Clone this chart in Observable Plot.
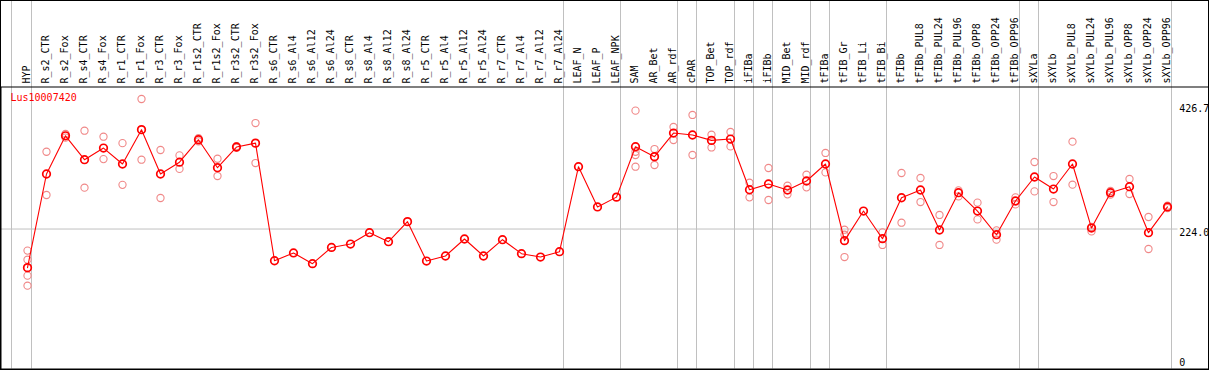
<!DOCTYPE html>
<html>
<head>
<meta charset="utf-8">
<script src="https://cdn.jsdelivr.net/npm/d3@7"></script>
<script src="https://cdn.jsdelivr.net/npm/@observablehq/plot@0.6"></script>
<style>
  html, body { margin: 0; padding: 0; background: #fff; }
  #chart svg { display: block; outline: 1px solid #000; outline-offset: -1px; }
</style>
</head>
<body>
<div id="chart"></div>
<script>
const geneName = "Lus10007420";

const categories = [
  "HYP", "R_s2_CTR", "R_s2_Fox", "R_s4_CTR", "R_s4_Fox", "R_r1_CTR", "R_r1_Fox", "R_r3_CTR", "R_r3_Fox",
  "R_r1s2_CTR", "R_r1s2_Fox", "R_r3s2_CTR", "R_r3s2_Fox",
  "R_s6_CTR", "R_s6_Al4", "R_s6_Al12", "R_s6_Al24", "R_s8_CTR", "R_s8_Al4", "R_s8_Al12", "R_s8_Al24",
  "R_r5_CTR", "R_r5_Al4", "R_r5_Al12", "R_r5_Al24", "R_r7_CTR", "R_r7_Al4", "R_r7_Al12", "R_r7_Al24",
  "LEAF_N", "LEAF_P", "LEAF_NPK",
  "SAM", "AR_Bet", "AR_rdf", "cPAR", "TOP_Bet", "TOP_rdf", "iFIBa", "iFIBb", "MID_Bet", "MID_rdf",
  "tFIBa", "tFIB_Gr", "tFIB_Li", "tFIB_Bi", "tFIBb",
  "tFIBb_PUL8", "tFIBb_PUL24", "tFIBb_PUL96", "tFIBb_OPP8", "tFIBb_OPP24", "tFIBb_OPP96",
  "sXYLa", "sXYLb", "sXYLb_PUL8", "sXYLb_PUL24", "sXYLb_PUL96", "sXYLb_OPP8", "sXYLb_OPP24", "sXYLb_OPP96"
];

const meanValues = [
  161, 313.7, 376, 337, 356, 330, 386, 313.7, 333, 369.6, 324, 357.7, 364,
  172.3, 185, 167.5, 194, 199.5, 218, 203.3, 236, 171.8, 180, 207.7, 180, 206.6, 183.8, 178.3, 187,
  325.6, 260, 276,
  358.2, 342, 380.5, 377.3, 368.5, 370.7, 288, 297.4, 287.6, 302.3, 330, 205, 253.3, 208.2, 275,
  287.6, 222.4, 283.2, 253.3, 214.7, 269.7, 308.8, 289.2, 330, 225.6, 283.2, 293, 218, 260
];

const replicateValues = [
  [188.8, 174, 148, 131.6], [350, 279.5], [379, 373], [384.3, 291.4], [374.5, 338],
  [364, 296], [436, 337], [352.8, 274.6], [344, 322], [372, 367], [338.6, 310.4],
  [359, 356.5], [396.8, 331.6],
  [], [], [], [], [], [], [], [], [], [], [], [], [], [], [], [],
  [], [], [],
  [417, 350, 344.7, 325.6], [354.4, 328.4], [390.3, 369.1], [410, 344.7], [377.8, 357],
  [382.2, 358.7], [299.5, 275.6], [323.5, 271.3], [294.6, 280.5], [312.6, 291.9],
  [348, 316.3], [222.9, 214.7, 178.3], [], [218.5, 198], [315.3, 234.3],
  [307.2, 268], [246.9, 198], [287, 277.2], [267, 239.7], [221.8, 206.6], [275.6, 264.1],
  [333.3, 285.3], [310.4, 268], [366.4, 296.3], [227.3, 220.1], [286, 280], [305.6, 281.1],
  [243.6, 191.4], [262, 258]
];

// last category of each group: a separator is drawn after it
const groupEnds = ["HYP", "R_r7_Al24", "LEAF_NPK", "AR_rdf", "cPAR", "TOP_rdf", "iFIBa", "iFIBb",
  "MID_rdf", "tFIBa", "tFIB_Bi", "tFIBb_OPP96", "sXYLa", "sXYLb_OPP96"];

const yTickValues = [426.7, 224.0];
const yTickLabels = ["426.7", "224.0"];
const yZeroValue = [0];
const yZeroLabel = ["0"];
const refLine = [224.0];

const means = categories.map((c, i) => ({cat: c, value: meanValues[i]}));
const reps = categories.flatMap((c, i) => replicateValues[i].map(v => ({cat: c, value: v})));

const chart = Plot.plot({
  width: 1209,
  height: 370,
  marginTop: 86.5,
  marginLeft: 0.5,
  marginRight: 0.5,
  marginBottom: 1.5,
  style: {fontFamily: "'DejaVu Sans Mono', monospace", fontSize: "10px", background: "#fff", overflow: "hidden"},
  x: {type: "point", domain: categories, range: [26.5, 1166.5], padding: 0, axis: null},
  y: {domain: [0, 426.7], range: [365.9, 104.2], axis: null},
  marks: [
    Plot.ruleY(refLine, {y: d => d, stroke: "#c0c0c0", strokeOpacity: 1, insetRight: 31}),
    Plot.ruleX(["HYP"], {x: d => d, dx: -16, stroke: "#c0c0c0", strokeOpacity: 1, insetTop: -87}),
    Plot.ruleX(groupEnds, {x: d => d, dx: 4, stroke: "#c0c0c0", strokeOpacity: 1, insetTop: -87}),
    Plot.frame({stroke: "#000"}),
    Plot.text(categories, {
      x: d => d, frameAnchor: "top", dy: -3.5, dx: 2.5, rotate: -90,
      textAnchor: "start", lineAnchor: "bottom", fill: "#000"
    }),
    Plot.text([geneName], {
      text: d => d, frameAnchor: "top-left", dx: 9.5, dy: 6.8,
      textAnchor: "start", lineAnchor: "top", fill: "#ff0000"
    }),
    Plot.text(yTickValues, {
      y: d => d, text: (d, i) => yTickLabels[i], frameAnchor: "right", dx: -29.8,
      textAnchor: "start", lineAnchor: "top", fill: "#000"
    }),
    Plot.text(yZeroValue, {
      y: d => d, text: (d, i) => yZeroLabel[i], frameAnchor: "right", dx: -29.8,
      textAnchor: "start", lineAnchor: "bottom", fill: "#000"
    }),
    Plot.dot(reps, {x: "cat", y: "value", r: 3.6, stroke: "#f08888", strokeWidth: 1.1, fill: "none"}),
    Plot.line(means, {x: "cat", y: "value", stroke: "#ff0000", strokeWidth: 1.1}),
    Plot.dot(means, {x: "cat", y: "value", r: 3.8, stroke: "#ff0000", strokeWidth: 1.7, fill: "none"})
  ]
});

document.getElementById("chart").appendChild(chart);
</script>
</body>
</html>
